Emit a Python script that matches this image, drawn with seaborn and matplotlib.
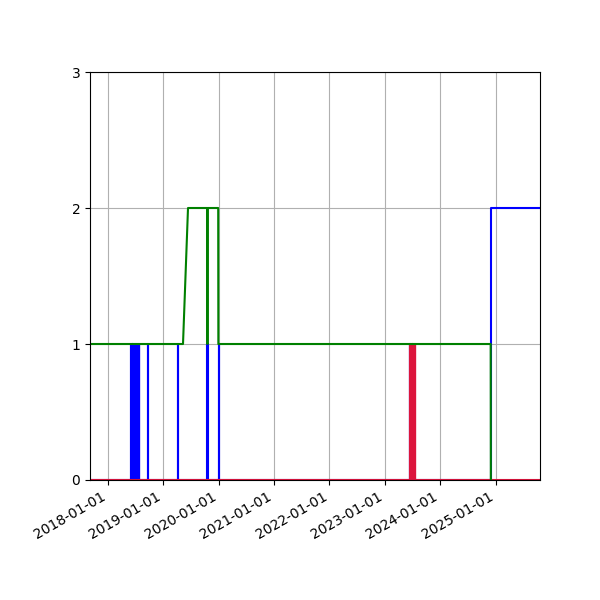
import matplotlib
matplotlib.use("Agg")
import matplotlib.pyplot as plt
import matplotlib.dates as mdates
import seaborn as sns
import pandas as pd


# blue series (step after each point)
blue_dates = ['2017-09-06',
              '2018-05-31', '2018-06-01',
              '2018-06-13', '2018-06-14', '2018-06-18', '2018-06-19',
              '2018-06-23', '2018-06-24', '2018-06-28', '2018-06-29',
              '2018-07-03', '2018-07-04', '2018-07-08', '2018-07-09',
              '2018-07-13', '2018-07-14', '2018-07-18', '2018-07-19',
              '2018-07-23', '2018-07-24', '2018-07-27', '2018-07-28',
              '2018-09-24', '2018-09-25',
              '2019-04-11', '2019-04-12',
              '2019-10-20', '2019-10-21',
              '2020-01-02', '2020-01-03',
              '2023-06-16', '2023-06-17',
              '2024-11-30', '2025-10-20']
blue_vals = [0,
             1, 0,
             1, 0, 1, 0,
             1, 0, 1, 0,
             1, 0, 1, 0,
             1, 0, 1, 0,
             1, 0, 1, 0,
             1, 0,
             1, 0,
             1, 0,
             1, 0,
             1, 0,
             2, 2]

# red series (step after each point)
red_dates = ['2017-09-06',
             '2023-06-17', '2023-06-18', '2023-06-22', '2023-06-23',
             '2023-06-27', '2023-06-28', '2023-07-02', '2023-07-03',
             '2023-07-07', '2023-07-08', '2023-07-12', '2023-07-13',
             '2023-07-17', '2023-07-18', '2023-07-20', '2023-07-21',
             '2025-10-20']
red_vals = [0,
            1, 0, 1, 0,
            1, 0, 1, 0,
            1, 0, 1, 0,
            1, 0, 1, 0,
            0]

# green series (straight lines between points)
green_dates = ['2017-09-06', '2019-05-12', '2019-06-14', '2019-10-19',
               '2019-10-20', '2019-10-21', '2019-12-30', '2019-12-31',
               '2024-11-29', '2024-11-30']
green_vals = [1, 1, 2, 2, 1, 2, 2, 1, 1, 0]


fig, ax = plt.subplots(figsize=(6, 6), dpi=100)

sns.lineplot(x=pd.to_datetime(blue_dates), y=blue_vals, color='blue',
             drawstyle='steps-post', estimator=None, sort=False, ax=ax)
sns.lineplot(x=pd.to_datetime(red_dates), y=red_vals, color='crimson',
             drawstyle='steps-post', estimator=None, sort=False, ax=ax)
sns.lineplot(x=pd.to_datetime(green_dates), y=green_vals, color='green',
             estimator=None, sort=False, ax=ax)

ax.set_xlim(pd.Timestamp('2017-09-06'), pd.Timestamp('2025-10-20'))
ax.set_ylim(0, 3)
ax.set_yticks([0, 1, 2, 3])
ax.xaxis.set_major_locator(mdates.YearLocator())
ax.xaxis.set_major_formatter(mdates.DateFormatter('%Y-%m-%d'))
ax.grid(True)
ax.set_xlabel('')
ax.set_ylabel('')

fig.autofmt_xdate()
plt.subplots_adjust(left=0.15)
plt.savefig('out.png')
